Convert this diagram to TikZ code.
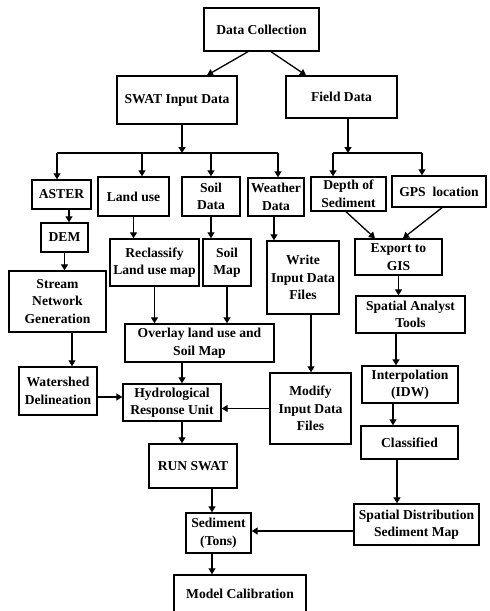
\documentclass[tikz,border=0pt]{standalone}
\usepackage{fontspec}
\setmainfont{Liberation Serif}
\usetikzlibrary{arrows.meta}

\begin{document}
\begin{tikzpicture}[x=1pt,y=-1pt,line join=miter,
 box/.style={draw,line width=1.4pt,align=center,inner sep=0pt,
  font=\fontsize{13.6}{17.5}\selectfont\bfseries},
 arr/.style={-{Triangle[length=6pt,width=7pt]},line width=1.3pt},
 bar/.style={line width=1.3pt}]
 \useasboundingbox (0,0) rectangle (490,611);
 % top
 \node[box,minimum width=115pt,minimum height=43pt] (dc) at (261.5,29.5) {Data Collection};
 \node[box,minimum width=120pt,minimum height=48pt] (swat) at (177,100) {SWAT Input Data};
 \node[box,minimum width=111pt,minimum height=42pt] (field) at (341.5,97) {Field Data};
 % second row
 \node[box,minimum width=59pt,minimum height=29pt] (aster) at (61.5,194.5) {ASTER};
 \node[box,minimum width=71pt,minimum height=39pt] (landuse) at (133.5,196.5) {Land use};
 \node[box,minimum width=58pt,minimum height=39pt] (soildata) at (211,196.5) {Soil\\Data};
 \node[box,minimum width=56pt,minimum height=38pt] (weather) at (276,197) {Weather\\Data};
 \node[box,minimum width=75pt,minimum height=34pt] (depth) at (348.5,194) {Depth of\\Sediment};
 \node[box,minimum width=94pt,minimum height=31pt] (gps) at (439,191.5) {GPS\ \ location};
 % SWAT side
 \node[box,minimum width=47pt,minimum height=29pt] (dem) at (64.5,237.5) {DEM};
 \node[box,minimum width=97pt,minimum height=61pt] (stream) at (57.5,301.5) {Stream\\Network\\Generation};
 \node[box,minimum width=89pt,minimum height=47pt] (reclass) at (154.5,262.5) {Reclassify\\Land use map};
 \node[box,minimum width=48pt,minimum height=47pt] (soilmap) at (227,262.5) {Soil\\Map};
 \node[box,minimum width=72pt,minimum height=73pt] (write) at (303,277.5) {Write\\Input Data\\Files};
 \node[box,minimum width=149pt,minimum height=38pt] (overlay) at (199.5,343) {Overlay land use and\\Soil Map};
 \node[box,minimum width=78pt,minimum height=48pt] (watershed) at (58,391) {Watershed\\Delineation};
 \node[box,minimum width=98pt,minimum height=37pt] (hru) at (172,402.5) {Hydrological\\Response Unit};
 \node[box,minimum width=81pt,minimum height=71pt] (modify) at (310.5,408.5) {Modify\\Input Data\\Files};
 \node[box,minimum width=88pt,minimum height=44pt] (run) at (193,466) {RUN SWAT};
 \node[box,minimum width=65pt,minimum height=40pt] (sediment) at (218.5,533) {Sediment\\(Tons)};
 \node[box,minimum width=132pt,minimum height=38pt] (model) at (240,594) {Model Calibration};
 % field side
 \node[box,minimum width=87pt,minimum height=36pt] (export) at (398.5,257) {Export to\\GIS};
 \node[box,minimum width=109pt,minimum height=37pt] (spatial) at (410.5,314.5) {Spatial Analyst\\Tools};
 \node[box,minimum width=96pt,minimum height=37pt] (interp) at (410,384.5) {Interpolation\\(IDW)};
 \node[box,minimum width=97pt,minimum height=33pt] (classified) at (409.5,442.5) {Classified};
 \node[box,minimum width=125pt,minimum height=41pt] (sdmap) at (416.5,524.5) {Spatial Distribution\\Sediment Map};

 % branches
 \draw[arr] ([xshift=-13.5pt]dc.south) -- ([xshift=30pt]swat.north);
 \draw[arr] ([xshift=9.5pt]dc.south) -- ([xshift=-35.5pt]field.north);
 \coordinate (swatbar) at (182,153);
 \coordinate (fieldbar) at (348,153);
 \draw[arr] (swat.south -| swatbar) -- (swatbar);
 \draw[arr] (field.south -| fieldbar) -- (fieldbar);
 \coordinate (t1) at (57,153);
 \coordinate (t2) at (142,153);
 \coordinate (t3) at (211,153);
 \coordinate (t4) at (278,153);
 \coordinate (t5) at (333,153);
 \coordinate (t6) at (422,153);
 \draw[bar] (t1) -- (t4);
 \draw[bar] (t5) -- (t6);
 \foreach \t/\n in {t1/aster,t2/landuse,t3/soildata,t4/weather,t5/depth,t6/gps}
  \draw[arr] (\t) -- (\t |- \n.north);

 % SWAT chain
 \draw[arr] ([xshift=7.5pt]aster.south) -- ([xshift=7.5pt]aster.south |- dem.north);
 \draw[arr] (dem.south) -- (dem.south |- stream.north);
 \draw[arr] (landuse.south) -- (landuse.south |- reclass.north);
 \draw[arr] (soildata.south) -- (soildata.south |- soilmap.north);
 \draw[arr] ([xshift=-2pt]weather.south) -- ([xshift=-2pt]weather.south |- write.north);
 \draw[arr] ([xshift=14.5pt]stream.south) -- ([xshift=14.5pt]stream.south |- watershed.north);
 \draw[arr] (reclass.south) -- (reclass.south |- overlay.north);
 \draw[arr] (soilmap.south) -- (soilmap.south |- overlay.north);
 \draw[arr] ([xshift=-17.5pt]overlay.south) -- ([xshift=-17.5pt]overlay.south |- hru.north);
 \draw[arr] ([yshift=-6pt]watershed.east) -- ([yshift=-6pt]watershed.east -| hru.west);
 \draw[arr] ([xshift=8pt]write.south) -- ([xshift=8pt]write.south |- modify.north);
 \draw[arr] (modify.west) -- (modify.west -| hru.east);
 \draw[arr] ([xshift=10pt]hru.south) -- ([xshift=10pt]hru.south |- run.north);
 \draw[arr] ([xshift=19pt]run.south) -- ([xshift=19pt]run.south |- sediment.north);
 \draw[arr] ([xshift=-6.5pt]sediment.south) -- ([xshift=-6.5pt]sediment.south |- model.north);

 % field chain
 \draw[arr] ([xshift=-2.5pt]depth.south) -- ([xshift=-23.5pt]export.north);
 \draw[arr] ([xshift=3pt]gps.south) -- ([xshift=4.5pt]export.north);
 \draw[arr] (export.south) -- (export.south |- spatial.north);
 \draw[arr] ([xshift=-14.5pt]spatial.south) -- ([xshift=-14.5pt]spatial.south |- interp.north);
 \draw[arr] ([xshift=-17pt]interp.south) -- ([xshift=-17pt]interp.south |- classified.north);
 \draw[arr] ([xshift=-12.5pt]classified.south) -- ([xshift=-12.5pt]classified.south |- sdmap.north);
 \draw[arr] ([yshift=-6.5pt]sdmap.west) -- ([yshift=-6.5pt]sdmap.west -| sediment.east);
\end{tikzpicture}
\end{document}
